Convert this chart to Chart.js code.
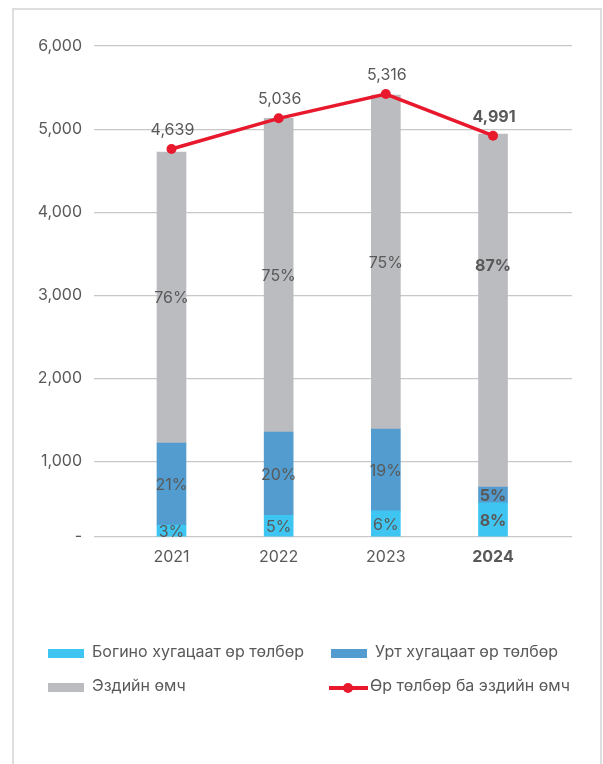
<!DOCTYPE html>
<html>
<head>
<meta charset="utf-8">
<script src="https://cdn.jsdelivr.net/npm/chart.js@4.4.1/dist/chart.umd.min.js"></script>
<style>
  html, body { margin: 0; padding: 0; background: #fff; }
  body { width: 603px; height: 764px; position: relative; overflow: hidden; font-family: Inter, "Noto Sans", sans-serif; }
  #card { position: absolute; left: 12px; top: 8px; width: 590px; height: 800px; border: 2px solid #dedede; box-sizing: border-box; }
  #wrap { position: absolute; left: 0; top: 0; width: 603px; height: 600px; }
  #legend { position: absolute; left: 0; top: 0; width: 603px; height: 764px; pointer-events: none; }
  .li { position: absolute; font-size: 16px; color: #595959; white-space: nowrap; line-height: 18px; }
  .sw { position: absolute; width: 36px; height: 9px; }
</style>
</head>
<body>
<div id="card"></div>
<div id="wrap"><canvas id="c" width="603" height="600"></canvas></div>
<div id="legend"></div>
<script>
// ---- data ----
const categories = [2021, 2022, 2023, 2024];
const categoryLabels = ['2021', '2022', '2023', '2024'];
const shortTerm = [236, 356, 408, 504];      // Богино хугацаат өр төлбөр
const longTerm = [987, 999, 983, 189];       // Урт хугацаат өр төлбөр
const equity = [3502, 3775, 4020, 4248];     // Эздийн өмч
const totalLine = [4761, 5130, 5422, 4921];  // Өр төлбөр ба эздийн өмч
const totalLabels = ['4,639', '5,036', '5,316', '4,991'];
const shortPct = ['3%', '5%', '6%', '8%'];
const longPct = ['21%', '20%', '19%', '5%'];
const equityPct = ['76%', '75%', '75%', '87%'];
const yTickValues = [100, 1000, 2000, 3000, 4000, 5000, 6000];
const yTickLabels = ['-', '1,000', '2,000', '3,000', '4,000', '5,000', '6,000'];
const seriesNames = ['Богино хугацаат өр төлбөр', 'Урт хугацаат өр төлбөр', 'Эздийн өмч', 'Өр төлбөр ба эздийн өмч'];

const colors = { short: '#3fc5f1', long: '#529ccf', equity: '#bbbcc0', line: '#e8192c' };
const textColor = '#595959';
const FONT = 'Inter, "Noto Sans", sans-serif';
const FS = 16;
const boldIndex = 3;

const xy = (arr) => categories.map((c, i) => ({ x: c, y: arr[i] }));

const labelPlugin = {
  id: 'labels',
  afterDatasetsDraw(chart) {
    const ctx = chart.ctx;
    ctx.save();
    ctx.textAlign = 'center';
    ctx.textBaseline = 'middle';
    ctx.fillStyle = textColor;
    const pctSets = [shortPct, longPct, equityPct];
    const dyExtra = [[0,0,0,0],[0,0,0,0],[0,0,0,-45]];
    for (let d = 0; d < 3; d++) {
      const meta = chart.getDatasetMeta(d);
      meta.data.forEach((bar, i) => {
        const area = chart.chartArea;
        const top = Math.min(bar.y, bar.base);
        const bottom = Math.min(Math.max(bar.y, bar.base), area.bottom);
        const cy = (top + bottom) / 2 + dyExtra[d][i];
        ctx.font = (i === boldIndex ? 'bold ' : '') + FS + 'px ' + FONT;
        ctx.fillText(pctSets[d][i], bar.x, cy + 1);
      });
    }
    const lm = chart.getDatasetMeta(3);
    lm.data.forEach((pt, i) => {
      ctx.font = (i === boldIndex ? 'bold ' : '') + FS + 'px ' + FONT;
      ctx.fillText(totalLabels[i], pt.x + 1, pt.y - 19);
    });
    ctx.restore();
  }
};

new Chart(document.getElementById('c'), {
  type: 'bar',
  data: {
    datasets: [
      { label: seriesNames[0], data: xy(shortTerm), backgroundColor: colors.short, stack: 'bars', order: 1, barThickness: 29 },
      { label: seriesNames[1], data: xy(longTerm), backgroundColor: colors.long, stack: 'bars', order: 1, barThickness: 29 },
      { label: seriesNames[2], data: xy(equity), backgroundColor: colors.equity, stack: 'bars', order: 1, barThickness: 29 },
      { type: 'line', label: seriesNames[3], data: xy(totalLine), stack: 'line', order: 0,
        borderColor: colors.line, backgroundColor: colors.line, borderWidth: 3.5,
        pointRadius: 5, pointHoverRadius: 5, pointBackgroundColor: colors.line, pointBorderWidth: 0, tension: 0 }
    ]
  },
  options: {
    responsive: false,
    animation: false,
    layout: { padding: { left: 0, right: 31, top: 46, bottom: 0 } },
    plugins: { legend: { display: false }, tooltip: { enabled: false } },
    scales: {
      x: {
        type: 'linear',
        offset: false,
        min: 2020.277, max: 2024.737,
        grid: { display: false, drawTicks: false, offset: false },
        border: { display: false },
        afterBuildTicks: (s) => { s.ticks = categories.map(v => ({ value: v })); },
        afterFit: (s) => { s.height = 63.5; },
        ticks: {
          padding: 11,
          color: textColor,
          autoSkip: false,
          maxRotation: 0,
          font: (c) => ({ family: FONT, size: FS, weight: c.index === boldIndex ? 'bold' : 'normal' }),
          callback: (v, i) => categoryLabels[i]
        }
      },
      y: {
        stacked: true,
        min: 100, max: 6000,
        grid: { color: '#c8c8c8', lineWidth: 1.2, drawTicks: false },
        border: { display: false },
        afterBuildTicks: (s) => { s.ticks = yTickValues.map(v => ({ value: v })); },
        afterFit: (s) => { s.width = 94; },
        ticks: {
          padding: 12,
          color: textColor,
          font: { family: FONT, size: FS },
          callback: (v, i) => yTickLabels[i]
        }
      }
    }
  },
  plugins: [labelPlugin]
});

// HTML legend (2 x 2 grid)
const lg = document.getElementById('legend');
const legendSpots = [
  { sx: 48, sy: 649, tx: 92, ty: 642, color: colors.short },
  { sx: 331, sy: 649, tx: 375, ty: 642, color: colors.long },
  { sx: 48, sy: 683, tx: 92, ty: 676, color: colors.equity },
  { sx: 329, sy: 683, tx: 370, ty: 676, color: colors.line, line: true }
];
legendSpots.forEach((p, i) => {
  if (p.line) {
    const l = document.createElement('div');
    l.style.cssText = `position:absolute;left:${p.sx}px;top:${p.sy + 3}px;width:39px;height:3.5px;background:${p.color};`;
    lg.appendChild(l);
    const dot = document.createElement('div');
    dot.style.cssText = `position:absolute;left:${p.sx + 14}px;top:${p.sy - 0.5}px;width:10px;height:10px;border-radius:50%;background:${p.color};`;
    lg.appendChild(dot);
  } else {
    const s = document.createElement('div');
    s.className = 'sw';
    s.style.left = p.sx + 'px'; s.style.top = p.sy + 'px'; s.style.background = p.color;
    lg.appendChild(s);
  }
  const t = document.createElement('div');
  t.className = 'li';
  t.style.left = p.tx + 'px'; t.style.top = p.ty + 'px';
  t.textContent = seriesNames[i];
  lg.appendChild(t);
});
</script>
</body>
</html>
